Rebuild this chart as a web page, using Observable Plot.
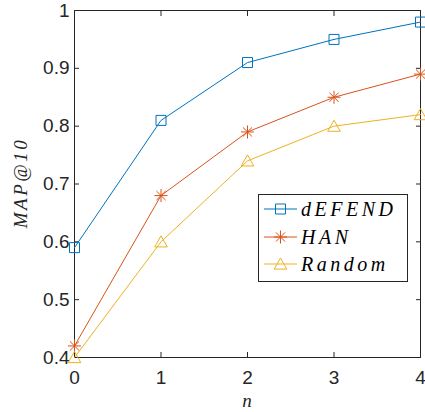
<!DOCTYPE html>
<html>
<head>
<meta charset="utf-8">
<script src="https://cdn.jsdelivr.net/npm/d3@7"></script>
<script src="https://cdn.jsdelivr.net/npm/@observablehq/plot@0.6"></script>
<style>
  html, body { margin: 0; padding: 0; background: #fff; }
  #chart { position: relative; width: 425px; height: 412px; }
</style>
</head>
<body>
<div id="chart"></div>
<script>
const nValues = [0, 1, 2, 3, 4];
const dEFEND = [0.59, 0.81, 0.91, 0.95, 0.98];
const HAN = [0.42, 0.68, 0.79, 0.85, 0.89];
const Random = [0.40, 0.60, 0.74, 0.80, 0.82];
const seriesNames = ["dEFEND", "HAN", "Random"];
const xTicks = [0, 1, 2, 3, 4];
const yTicks = [0.4, 0.5, 0.6, 0.7, 0.8, 0.9, 1];

const colors = {dEFEND: "#0072BD", HAN: "#D95319", Random: "#EDB120"};

const squareSym = {draw(ctx, size) { const s = 5; ctx.moveTo(-s, -s); ctx.lineTo(s, -s); ctx.lineTo(s, s); ctx.lineTo(-s, s); ctx.closePath(); }};
const starSym = {draw(ctx, size) {
  const r = 6.5, d = r * Math.SQRT1_2;
  ctx.moveTo(-r, 0); ctx.lineTo(r, 0);
  ctx.moveTo(0, -r); ctx.lineTo(0, r);
  ctx.moveTo(-d, -d); ctx.lineTo(d, d);
  ctx.moveTo(-d, d); ctx.lineTo(d, -d);
}};
const triSym = {draw(ctx, size) { const h = 6; ctx.moveTo(0, -h); ctx.lineTo(h * 1.05, h * 0.85); ctx.lineTo(-h * 1.05, h * 0.85); ctx.closePath(); }};
const symbols = {dEFEND: squareSym, HAN: starSym, Random: triSym};

const seriesValues = {dEFEND, HAN, Random};
const data = seriesNames.flatMap(s => nValues.map((n, i) => ({series: s, n, v: seriesValues[s][i]})));

const axisColor = "#262626";
const tickFont = "Liberation Sans, Arial, sans-serif";
const marks = [
  Plot.axisX(xTicks, {anchor: "bottom", tickSize: -5, tickPadding: 18, fontSize: 19, fontFamily: tickFont, color: axisColor, label: null}),
  Plot.axisX(xTicks, {anchor: "top", tickSize: -5, tickFormat: () => "", color: axisColor, label: null}),
  Plot.axisY(yTicks, {anchor: "left", tickSize: -5, tickPadding: 10, fontSize: 19, fontFamily: tickFont, color: axisColor, label: null, tickFormat: d => String(d)}),
  Plot.axisY(yTicks, {anchor: "right", tickSize: -5, tickFormat: () => "", color: axisColor, label: null}),
  Plot.frame({stroke: axisColor, strokeWidth: 1})
];
for (const s of seriesNames) {
  const rows = data.filter(d => d.series === s);
  marks.push(Plot.line(rows, {x: "n", y: "v", stroke: colors[s], strokeWidth: 1}));
  marks.push(Plot.dot(rows, {x: "n", y: "v", stroke: colors[s], fill: "none", strokeWidth: 1, symbol: symbols[s], r: 5}));
}

const chart = Plot.plot({
  width: 425,
  height: 412,
  marginLeft: 74,
  marginRight: 5,
  marginTop: 10,
  marginBottom: 55,
  style: {fontFamily: tickFont, background: "#fff", overflow: "visible"},
  x: {domain: [0, 4]},
  y: {domain: [0.4, 1]},
  marks
});
document.getElementById("chart").appendChild(chart);

const svg = d3.select(chart);

// Axis titles
svg.append("text")
  .attr("x", 247).attr("y", 407)
  .attr("text-anchor", "middle")
  .style("font-family", "Liberation Serif, serif").style("font-style", "italic").style("font-size", "19px")
  .attr("fill", axisColor)
  .text("n");
svg.append("text")
  .attr("transform", "translate(27,183) rotate(-90)")
  .attr("text-anchor", "middle")
  .style("font-family", "Liberation Serif, serif").style("font-style", "italic").style("font-size", "19px")
  .attr("fill", axisColor)
  .attr("letter-spacing", "2.5px")
  .text("MAP@10");

// Legend
const lg = svg.append("g");
lg.append("rect").attr("x", 258.5).attr("y", 194.5).attr("width", 149).attr("height", 87)
  .attr("fill", "#fff").attr("stroke", axisColor).attr("stroke-width", 1);
const rowY = [209, 237, 264];
seriesNames.forEach((s, i) => {
  const y = rowY[i];
  lg.append("line").attr("x1", 264).attr("x2", 297).attr("y1", y).attr("y2", y)
    .attr("stroke", colors[s]).attr("stroke-width", 1);
  const p = d3.path();
  symbols[s].draw(p, 0);
  lg.append("path").attr("d", p.toString()).attr("transform", `translate(280.5,${y})`)
    .attr("fill", "none").attr("stroke", colors[s]).attr("stroke-width", 1);
  lg.append("text").attr("x", 301).attr("y", y + 6.5)
    .attr("text-anchor", "start")
    .style("font-family", "Liberation Serif, serif").style("font-style", "italic").style("font-size", "20px")
    .attr("letter-spacing", "3.5px")
    .attr("fill", "#000")
    .text(s);
});
</script>
</body>
</html>
